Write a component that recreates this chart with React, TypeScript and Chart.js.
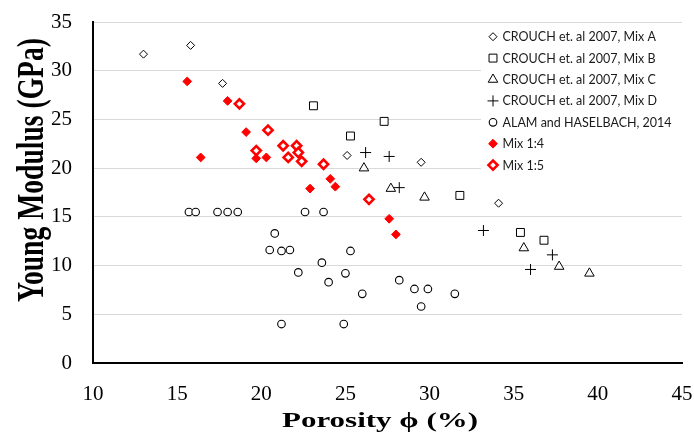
import React, { useEffect, useRef } from 'react';
import { Chart, registerables } from 'chart.js';
import { drawPoint } from 'chart.js/helpers';

Chart.register(...registerables);

// ---- data ----
const mixA_x = [13.0, 15.8, 17.7, 25.1, 29.5, 34.1];
const mixA_y = [31.7, 32.6, 28.7, 21.3, 20.6, 16.4];

const mixB_x = [23.1, 25.3, 27.3, 31.8, 35.4, 36.8];
const mixB_y = [26.4, 23.3, 24.8, 17.2, 13.4, 12.6];

const mixC_x = [26.1, 27.7, 29.7, 35.6, 37.7, 39.5];
const mixC_y = [20.0, 17.9, 17.0, 11.8, 9.9, 9.2];

const mixD_x = [26.2, 27.6, 28.2, 33.2, 37.3, 36.0];
const mixD_y = [21.6, 21.2, 18.0, 13.6, 11.1, 9.6];

const alam_x = [15.7, 16.1, 17.4, 18.0, 18.6, 22.6, 23.7, 20.8, 20.5, 21.2, 21.7, 25.3, 23.6, 22.2, 25.0, 24.0, 26.0, 21.2, 24.9, 28.2, 29.1, 29.9, 29.5, 31.5];
const alam_y = [15.5, 15.5, 15.5, 15.5, 15.5, 15.5, 15.5, 13.3, 11.6, 11.5, 11.6, 11.5, 10.3, 9.3, 9.2, 8.3, 7.1, 4.0, 4.0, 8.5, 7.6, 7.6, 5.8, 7.1];

const mix14_x = [15.6, 18.0, 19.1, 16.4, 19.7, 20.3, 22.9, 24.1, 24.4, 27.6, 28.0];
const mix14_y = [28.9, 26.9, 23.7, 21.1, 21.0, 21.1, 17.9, 18.9, 18.1, 14.8, 13.2];

const mix15_x = [18.7, 20.4, 19.7, 21.3, 22.1, 21.6, 22.2, 22.4, 23.7, 26.4];
const mix15_y = [26.6, 23.9, 21.8, 22.3, 22.3, 21.1, 21.6, 20.7, 20.4, 16.8];

const seriesLabels = [
  'CROUCH et. al 2007, Mix A',
  'CROUCH et. al 2007, Mix B',
  'CROUCH et. al 2007, Mix C',
  'CROUCH et. al 2007, Mix D',
  'ALAM and HASELBACH, 2014',
  'Mix 1:4',
  'Mix 1:5',
];

const xTitle = 'Porosity \u03D5 (%)';
const yTitle = 'Young Modulus (GPa)';

const X_MIN = 10, X_MAX = 45, X_STEP = 5;
const Y_MIN = 0, Y_MAX = 35, Y_STEP = 5;

const zip = (xs: number[], ys: number[]) => xs.map((x, i) => ({ x, y: ys[i] }));

const SERIF = "'Liberation Serif', 'Times New Roman', serif";

const styles = [
  { pointStyle: 'rectRot', radius: 4, fill: '#ffffff', stroke: '#000000', bw: 1 },
  { pointStyle: 'rect', radius: 5.6, fill: '#ffffff', stroke: '#000000', bw: 1 },
  { pointStyle: 'triangle', radius: 5.5, fill: '#ffffff', stroke: '#000000', bw: 1 },
  { pointStyle: 'cross', radius: 5.5, fill: '#000000', stroke: '#000000', bw: 1 },
  { pointStyle: 'circle', radius: 3.8, fill: '#ffffff', stroke: '#000000', bw: 1.1 },
  { pointStyle: 'rectRot', radius: 4.4, fill: '#ff0000', stroke: '#ff0000', bw: 1 },
  { pointStyle: 'rectRot', radius: 4.6, fill: '#ffffff', stroke: '#ff0000', bw: 2.6 },
];

const overlayPlugin = {
  id: 'overlay',
  afterDraw(chart: any) {
    const ctx = chart.ctx as CanvasRenderingContext2D;
    ctx.save();
    // legend box
    ctx.fillStyle = '#ffffff';
    ctx.fillRect(481, 27, 213, 151);
    const rowY0 = 36.7, rowH = 21.4;
    ctx.font = "12.5px Lato, 'Open Sans', sans-serif";
    ctx.textBaseline = 'middle';
    ctx.textAlign = 'left';
    seriesLabels.forEach((lab, i) => {
      const s = styles[i];
      const y = rowY0 + i * rowH;
      ctx.save();
      ctx.fillStyle = s.fill;
      ctx.strokeStyle = s.stroke;
      ctx.lineWidth = s.bw;
      drawPoint(ctx, { pointStyle: s.pointStyle as any, radius: s.radius, rotation: 0, borderWidth: s.bw }, 493, y);
      ctx.restore();
      ctx.fillStyle = '#1a1a1a';
      ctx.fillText(lab, 502.5, y + 0.5);
    });

    // x title (stretched to match reference proportions)
    ctx.fillStyle = '#000000';
    ctx.font = `bold 22px ${SERIF}`;
    ctx.textAlign = 'center';
    ctx.textBaseline = 'alphabetic';
    const wx = ctx.measureText(xTitle).width;
    ctx.save();
    ctx.translate(380, 426.5);
    ctx.scale(196 / wx, 1);
    ctx.fillText(xTitle, 0, 0);
    ctx.restore();

    // y title
    ctx.font = `bold 38px ${SERIF}`;
    const wy = ctx.measureText(yTitle).width;
    ctx.save();
    ctx.translate(43, 170);
    ctx.rotate(-Math.PI / 2);
    ctx.scale(264 / wy, 1);
    ctx.fillText(yTitle, 0, 0);
    ctx.restore();
    ctx.restore();
  },
};

export default function App() {
  const ref = useRef<HTMLCanvasElement | null>(null);
  useEffect(() => {
    document.body.style.margin = '0';
    const canvas = ref.current!;
    const mk = (label: string, data: any[], i: number) => {
      const s = styles[i];
      return {
        label,
        data,
        showLine: false,
        pointStyle: s.pointStyle,
        pointRadius: s.radius,
        pointBackgroundColor: s.fill,
        pointBorderColor: s.stroke,
        pointBorderWidth: s.bw,
        backgroundColor: s.fill,
        borderColor: s.stroke,
      };
    };
    const chart = new Chart(canvas, {
      type: 'scatter',
      data: {
        datasets: [
          mk(seriesLabels[0], zip(mixA_x, mixA_y), 0),
          mk(seriesLabels[1], zip(mixB_x, mixB_y), 1),
          mk(seriesLabels[2], zip(mixC_x, mixC_y), 2),
          mk(seriesLabels[3], zip(mixD_x, mixD_y), 3),
          mk(seriesLabels[4], zip(alam_x, alam_y), 4),
          mk(seriesLabels[5], zip(mix14_x, mix14_y), 5),
          mk(seriesLabels[6], zip(mix15_x, mix15_y), 6),
        ] as any,
      },
      options: {
        responsive: false,
        animation: false,
        events: [],
        layout: { padding: { top: 22, right: 12, left: 0, bottom: 0 } },
        plugins: { legend: { display: false }, tooltip: { enabled: false } },
        scales: {
          x: {
            type: 'linear',
            min: X_MIN,
            max: X_MAX,
            ticks: { stepSize: X_STEP, color: '#000', font: { family: SERIF, size: 21 }, padding: 19 },
            grid: { display: false, drawTicks: false },
            border: { display: true, color: '#000', width: 2 },
            afterFit: (s: any) => { s.height = 71; s.paddingLeft = 0; s.paddingRight = 0; },
          },
          y: {
            type: 'linear',
            min: Y_MIN,
            max: Y_MAX,
            ticks: { stepSize: Y_STEP, color: '#000', font: { family: SERIF, size: 21 }, padding: 21 },
            grid: { color: '#d9d9d9', lineWidth: 1, drawTicks: false },
            border: { display: true, color: '#000', width: 2 },
            afterFit: (s: any) => { s.width = 93; s.paddingTop = 0; s.paddingBottom = 0; },
          },
        },
      } as any,
      plugins: [overlayPlugin],
    });
    return () => chart.destroy();
  }, []);
  return (
    <div style={{ width: 694, height: 434 }}>
      <canvas ref={ref} width={694} height={434} style={{ display: 'block' }} />
    </div>
  );
}
